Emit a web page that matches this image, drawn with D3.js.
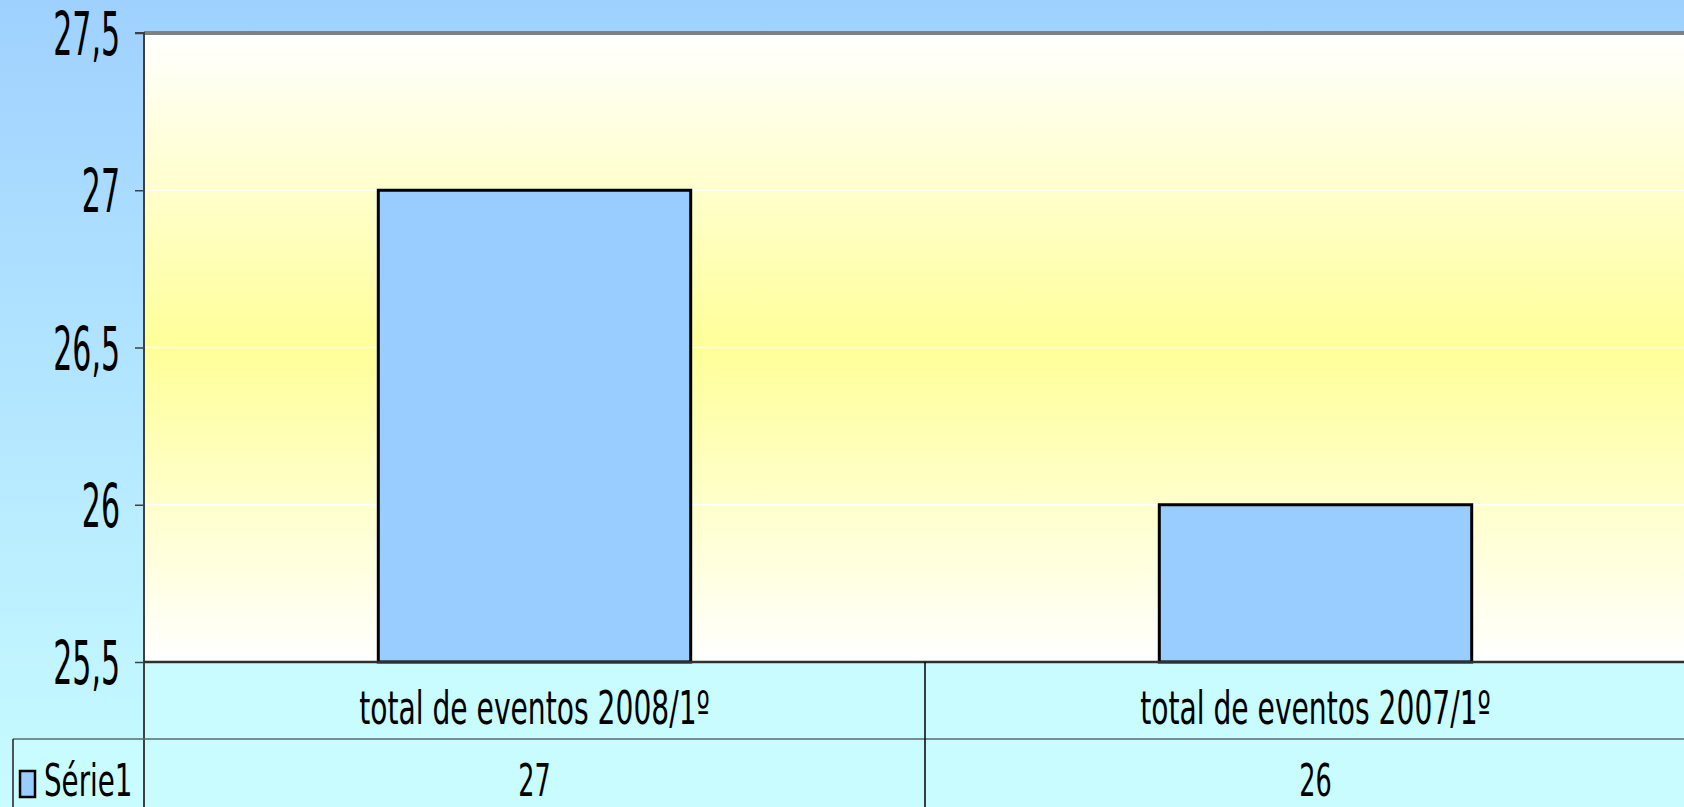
<!DOCTYPE html>
<html>
<head>
<meta charset="utf-8">
<script src="https://cdn.jsdelivr.net/npm/d3@7"></script>
<style>
  html, body { margin: 0; padding: 0; overflow: hidden; }
  svg { display: block; }
</style>
</head>
<body>
<script>
// ---- data ----
const categories = ["total de eventos 2008/1º", "total de eventos 2007/1º"];
const seriesName = "Série1";
const seriesValues = [27, 26];
const valueLabels = ["27", "26"];
const yTicks = [25.5, 26, 26.5, 27, 27.5];
const yTickLabels = ["25,5", "26", "26,5", "27", "27,5"];

// ---- layout ----
const W = 1684, H = 807;
const plotLeft = 144, plotTop = 33, plotBottom = 662;
const colWidth = 781;
const row1Bottom = 739;
const legendLeft = 13;
const FONT = "DejaVu Sans, Verdana, sans-serif";

const svg = d3.select("body").append("svg").attr("width", W).attr("height", H);
const defs = svg.append("defs");

const bg = defs.append("linearGradient").attr("id", "bg").attr("x1", 0).attr("y1", 0).attr("x2", 0).attr("y2", 1);
bg.append("stop").attr("offset", "0%").attr("stop-color", "#9fd1ff");
bg.append("stop").attr("offset", "100%").attr("stop-color", "#c8fcff");

const pg = defs.append("linearGradient").attr("id", "pg").attr("x1", 0).attr("y1", 0).attr("x2", 0).attr("y2", 1);
pg.append("stop").attr("offset", "0%").attr("stop-color", "#ffffff");
pg.append("stop").attr("offset", "50%").attr("stop-color", "#ffff99");
pg.append("stop").attr("offset", "100%").attr("stop-color", "#ffffff");

svg.append("rect").attr("width", W).attr("height", H).attr("fill", "url(#bg)");

// scales
const x = d3.scaleBand().domain(categories).range([plotLeft, plotLeft + colWidth * categories.length]).padding(0);
const y = d3.scaleLinear().domain([25.5, 27.5]).range([plotBottom, plotTop]);

// plot area
const plotRight = x.range()[1];
svg.append("rect").attr("x", plotLeft).attr("y", plotTop).attr("width", plotRight - plotLeft)
  .attr("height", plotBottom - plotTop).attr("fill", "url(#pg)");

// table background
svg.append("rect").attr("x", plotLeft).attr("y", plotBottom).attr("width", plotRight - plotLeft)
  .attr("height", H - plotBottom).attr("fill", "#c8fcff");
svg.append("rect").attr("x", legendLeft).attr("y", row1Bottom).attr("width", plotLeft - legendLeft)
  .attr("height", H - row1Bottom).attr("fill", "#c8fcff");

// gridlines
svg.append("g").selectAll("line").data(yTicks.filter(t => t > 25.5 && t < 27.5)).join("line")
  .attr("x1", plotLeft).attr("x2", plotRight)
  .attr("y1", d => y(d)).attr("y2", d => y(d))
  .attr("stroke", "#ffffff").attr("stroke-width", 1.5);

// bars
const barW = x.bandwidth() * 0.4;
svg.append("g").selectAll("rect").data(categories).join("rect")
  .attr("x", d => x(d) + (x.bandwidth() - barW) / 2)
  .attr("y", (d, i) => y(seriesValues[i]))
  .attr("width", barW)
  .attr("height", (d, i) => y(25.5) - y(seriesValues[i]))
  .attr("fill", "#99ccff").attr("stroke", "#000").attr("stroke-width", 3);

// plot top border
svg.append("line").attr("x1", plotLeft).attr("x2", plotRight).attr("y1", plotTop).attr("y2", plotTop)
  .attr("stroke", "#808080").attr("stroke-width", 4);

// y axis
const yAxis = d3.axisLeft(y).tickValues(yTicks).tickSize(9).tickFormat("");
const ga = svg.append("g").attr("transform", `translate(${plotLeft},0)`).call(yAxis);
ga.select(".domain").attr("stroke", "#404040").attr("stroke-width", 2).attr("d", `M-9,${plotTop}H0V${H}`);
ga.selectAll(".tick line").attr("stroke", "#404040").attr("stroke-width", 1.5);

// y tick labels (condensed)
svg.append("g").selectAll("text").data(yTicks).join("text")
  .attr("transform", d => `translate(120,${y(d) + 22}) scale(0.5,1)`)
  .attr("text-anchor", "end").attr("font-family", FONT).attr("font-size", 60).attr("fill", "#000")
  .text((d, i) => yTickLabels[i]);

// table lines
svg.append("line").attr("x1", plotLeft).attr("x2", plotRight).attr("y1", plotBottom).attr("y2", plotBottom)
  .attr("stroke", "#303030").attr("stroke-width", 2.5);
svg.append("line").attr("x1", legendLeft).attr("x2", plotRight).attr("y1", row1Bottom).attr("y2", row1Bottom)
  .attr("stroke", "#5a6a6a").attr("stroke-width", 1.5);
svg.append("line").attr("x1", legendLeft).attr("x2", legendLeft).attr("y1", row1Bottom).attr("y2", H)
  .attr("stroke", "#202020").attr("stroke-width", 1.5);
svg.append("g").selectAll("line").data(categories.slice(1)).join("line")
  .attr("x1", d => x(d)).attr("x2", d => x(d)).attr("y1", plotBottom).attr("y2", H)
  .attr("stroke", "#000").attr("stroke-width", 1.5);

// category labels
svg.append("g").selectAll("text").data(categories).join("text")
  .attr("transform", d => `translate(${x(d) + x.bandwidth() / 2},724) scale(0.612,1)`)
  .attr("text-anchor", "middle").attr("font-family", FONT).attr("font-size", 46).attr("fill", "#000")
  .text(d => d);

// value labels
svg.append("g").selectAll("text").data(categories).join("text")
  .attr("transform", d => `translate(${x(d) + x.bandwidth() / 2},796) scale(0.58,1)`)
  .attr("text-anchor", "middle").attr("font-family", FONT).attr("font-size", 44).attr("fill", "#000")
  .text((d, i) => valueLabels[i]);

// legend
svg.append("rect").attr("x", 20).attr("y", 771).attr("width", 15).attr("height", 26)
  .attr("fill", "#99ccff").attr("stroke", "#000").attr("stroke-width", 2.5);
svg.append("text").attr("transform", "translate(44,796) scale(0.63,1)")
  .attr("font-family", FONT).attr("font-size", 44).attr("fill", "#000").text(seriesName);
</script>
</body>
</html>
